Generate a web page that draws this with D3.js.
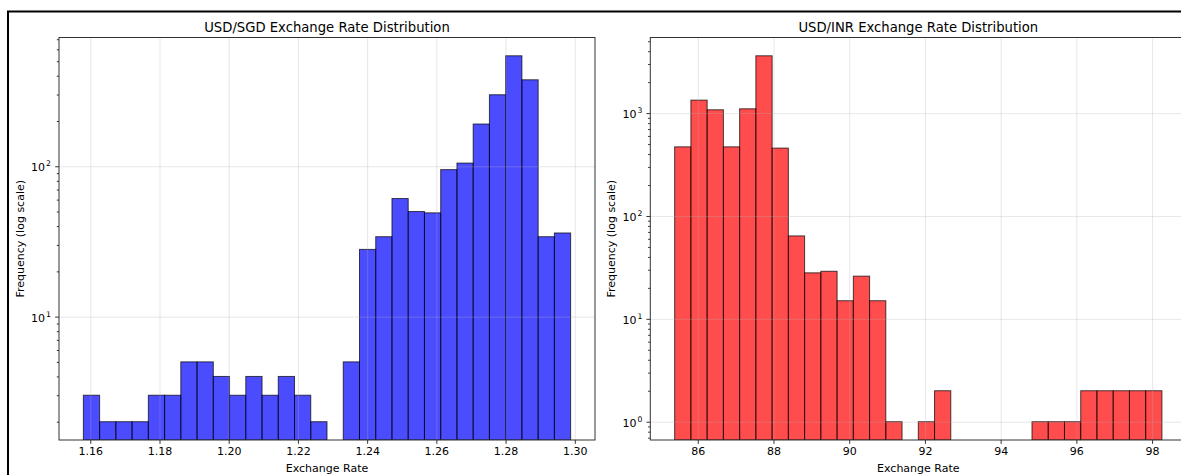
<html>

<head>
    <script src="https://cdn.jsdelivr.net/npm/d3@7"></script>
    <style>
        body {
            margin: 0px;
            background-color: white;
        }

        * {
            font-family: "DejaVu Sans";
        }

        .title {
            font-size: 13.2px;
            fill: black;
        }

        .label {
            font-size: 11px;
            fill: black;
        }

        .axis text {
            font-size: 11px;
            fill: black;
        }

        .axis line,
        .axis path {
            stroke: #333;
        }

        .gridlines line {
            stroke: #b0b0b0;
            stroke-opacity: 0.3;
        }

        .gridlines .domain {
            stroke: none;
        }
    </style>
</head>

<body>
    <svg id="chart" width="1181" height="475"></svg>
</body>

<script>
    // histogram counts per bin (30 bins each)
    const sgdCounts = [3, 2, 2, 2, 3, 3, 5, 5, 4, 3, 4, 3, 4, 3, 2, 0, 5, 28, 34, 61, 50, 49, 95, 105, 191, 299, 543, 376, 34, 36];
    const sgdRange = [1.1580, 1.2988];
    const sgdTicks = [1.16, 1.18, 1.20, 1.22, 1.24, 1.26, 1.28, 1.30];

    const inrCounts = [470, 1337, 1077, 470, 1101, 3607, 457, 64, 28, 29, 15, 26, 15, 1, 0, 1, 2, 0, 0, 0, 0, 0, 1, 1, 1, 2, 2, 2, 2, 2];
    const inrRange = [85.39, 98.26];
    const inrTicks = [86, 88, 90, 92, 94, 96, 98];

    const svg = d3.select("#chart");
    const plotWidth = 536;
    const plotTop = 37.5;
    const plotHeight = 402.5;
    const tickLen = 3.85;

    svg.append("rect")
        .attr("width", 1181)
        .attr("height", 475)
        .attr("fill", "white");

    // outer figure frame
    svg.append("rect")
        .attr("x", 8)
        .attr("y", 11.5)
        .attr("width", 1300)
        .attr("height", 600)
        .attr("fill", "none")
        .attr("stroke", "black")
        .attr("stroke-width", 2);

    function drawHist(left, counts, range, xTicks, color, edge, title, id) {
        const n = counts.length;
        const binWidth = (range[1] - range[0]) / n;
        const bins = counts.map((c, i) => ({
            x0: range[0] + i * binWidth,
            x1: range[0] + (i + 1) * binWidth,
            count: c
        }));

        // matplotlib style 5% margins
        const span = range[1] - range[0];
        const xScale = d3.scaleLinear()
            .domain([range[0] - 0.05 * span, range[1] + 0.05 * span])
            .range([0, plotWidth]);

        const positive = counts.filter(c => c > 0);
        const lo = Math.log10(d3.min(positive));
        const hi = Math.log10(d3.max(positive));
        const ySpan = hi - lo;
        const yScale = d3.scaleLog()
            .domain([Math.pow(10, lo - 0.05 * ySpan), Math.pow(10, hi + 0.05 * ySpan)])
            .range([plotHeight, 0]);

        const g = svg.append("g").attr("transform", `translate(${left},${plotTop})`);

        g.append("clipPath").attr("id", id)
            .append("rect")
            .attr("width", plotWidth)
            .attr("height", plotHeight);

        // bars
        g.append("g")
            .attr("clip-path", `url(#${id})`)
            .selectAll("rect")
            .data(bins.filter(d => d.count > 0))
            .join("rect")
            .attr("x", d => xScale(d.x0))
            .attr("width", d => xScale(d.x1) - xScale(d.x0))
            .attr("y", d => yScale(d.count))
            .attr("height", d => plotHeight - yScale(d.count))
            .attr("fill", color)
            .attr("fill-opacity", 0.7)
            .attr("stroke", edge)
            .attr("stroke-opacity", 0.7)
            .attr("stroke-width", 1);

        // major / minor log ticks
        const d = yScale.domain();
        let majors = [];
        let minors = [];
        for (let e = Math.floor(Math.log10(d[0])); e <= Math.ceil(Math.log10(d[1])); e++) {
            for (let m = 1; m < 10; m++) {
                const v = m * Math.pow(10, e);
                if (v < d[0] || v > d[1]) continue;
                if (m == 1) majors.push(v); else minors.push(v);
            }
        }

        // gridlines
        g.append("g")
            .attr("class", "gridlines")
            .call(d3.axisLeft(yScale).tickValues(majors).tickSize(-plotWidth).tickFormat(""));
        g.append("g")
            .attr("class", "gridlines")
            .attr("transform", `translate(0,${plotHeight})`)
            .call(d3.axisBottom(xScale).tickValues(xTicks).tickSize(-plotHeight).tickFormat(""));

        // frame
        g.append("rect")
            .attr("width", plotWidth)
            .attr("height", plotHeight)
            .attr("fill", "none")
            .attr("stroke", "#333")
            .attr("stroke-width", 1);

        // x axis
        g.append("g")
            .attr("class", "x axis")
            .attr("transform", `translate(0,${plotHeight})`)
            .call(d3.axisBottom(xScale).tickValues(xTicks).tickSize(tickLen).tickPadding(3.5)
                .tickFormat(xTicks[0] < 10 ? d3.format(".2f") : d3.format("d")))
            .call(a => a.select(".domain").remove());

        // y axis
        const yAxis = g.append("g").attr("class", "y axis");
        yAxis.call(d3.axisLeft(yScale).tickValues(majors).tickSize(tickLen).tickFormat(""))
            .call(a => a.select(".domain").remove());
        yAxis.append("g")
            .call(d3.axisLeft(yScale).tickValues(minors).tickSize(2.2).tickFormat(""))
            .call(a => a.select(".domain").remove());

        const yLabels = g.append("g").attr("class", "axis");
        majors.forEach(v => {
            const t = yLabels.append("text")
                .attr("x", -8)
                .attr("y", yScale(v) + 5)
                .attr("text-anchor", "end");
            t.append("tspan").text("10");
            t.append("tspan")
                .attr("dx", 1)
                .attr("dy", -5)
                .style("font-size", "7.7px")
                .text(Math.round(Math.log10(v)));
        });

        // titles and labels
        svg.append("text")
            .attr("class", "title")
            .attr("x", left + plotWidth / 2)
            .attr("y", 32.4)
            .attr("text-anchor", "middle")
            .text(title);
        svg.append("text")
            .attr("class", "label")
            .attr("x", left + plotWidth / 2)
            .attr("y", 471.5)
            .attr("text-anchor", "middle")
            .text("Exchange Rate");
        svg.append("text")
            .attr("class", "label")
            .attr("transform", `translate(${left - 35},${plotTop + plotHeight / 2}) rotate(-90)`)
            .attr("text-anchor", "middle")
            .text("Frequency (log scale)");
    }

    drawHist(59, sgdCounts, sgdRange, sgdTicks, "blue", "black", "USD/SGD Exchange Rate Distribution", "clipSgd");
    drawHist(650.3, inrCounts, inrRange, inrTicks, "red", "black", "USD/INR Exchange Rate Distribution", "clipInr");
</script>

</html>
